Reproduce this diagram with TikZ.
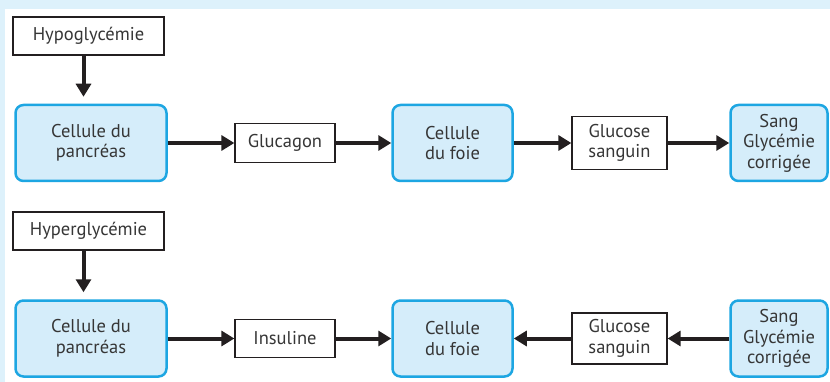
\documentclass[tikz,border=0pt]{standalone}
\usepackage{fontspec}
\setmainfont{PT Sans}
\usetikzlibrary{arrows.meta}
\definecolor{bande}{HTML}{DDF1FB}
\definecolor{bleu}{HTML}{1DA6E2}
\definecolor{bleuclair}{HTML}{D5EDFA}
\definecolor{trait}{HTML}{231F20}
\definecolor{texte}{HTML}{363636}
\begin{document}
\begin{tikzpicture}[x=1pt,y=-1pt,
  font=\fontsize{18.5}{20.5}\selectfont, text=texte,
  cellule/.style={draw=bleu, fill=bleuclair, line width=2.5pt, rounded corners=8pt,
    align=center, inner sep=0pt, minimum height=76pt},
  messager/.style={draw=trait, fill=white, line width=1.3pt, align=center, inner sep=0pt},
  fleche/.style={draw=trait, line width=4pt, -{Triangle[length=13pt,width=15pt]}}]
% background band
\fill[bande] (0,0) rectangle (830,382);
\fill[white] (5,9) rectangle (830,382);
\useasboundingbox (0,0) rectangle (830,382);

% first row: hypoglycemie
\node[messager, minimum width=151pt, minimum height=38pt] (hypo) at (88.5,36) {Hypoglycémie};
\node[cellule, minimum width=151pt] (pancreasA) at (91,143) {Cellule du\\pancréas};
\node[messager, minimum width=100pt, minimum height=39pt] (glucagon) at (285,143) {Glucagon};
\node[cellule, minimum width=120pt] (foieA) at (452.5,143) {Cellule\\du foie};
\node[messager, minimum width=95pt, minimum height=53pt] (glucoseA) at (619.5,143) {Glucose\\sanguin};
\node[cellule, minimum width=97pt] (sangA) at (779,143) {Sang\\Glycémie\\corrigée};

\draw[fleche, shorten >=7pt] ([xshift=-5pt]hypo.south) -- ([xshift=-5pt]hypo.south |- pancreasA.north);
\draw[fleche] (pancreasA) -- (glucagon);
\draw[fleche] (glucagon) -- (foieA);
\draw[fleche] (foieA) -- (glucoseA);
\draw[fleche] (glucoseA) -- (sangA);

% second row: hyperglycemie, arrows from the blood go back left
\node[messager, minimum width=151pt, minimum height=38pt] (hyper) at (88.5,231) {Hyperglycémie};
\node[cellule, minimum width=151pt] (pancreasB) at (91,338.5) {Cellule du\\pancréas};
\node[messager, minimum width=100pt, minimum height=38pt] (insuline) at (285,338.5) {Insuline};
\node[cellule, minimum width=120pt] (foieB) at (452.5,338.5) {Cellule\\du foie};
\node[messager, minimum width=95pt, minimum height=51pt] (glucoseB) at (619.5,338.5) {Glucose\\sanguin};
\node[cellule, minimum width=97pt] (sangB) at (779,338.5) {Sang\\Glycémie\\corrigée};

\draw[fleche, shorten >=7pt] ([xshift=-5pt]hyper.south) -- ([xshift=-5pt]hyper.south |- pancreasB.north);
\draw[fleche] (pancreasB) -- (insuline);
\draw[fleche] (insuline) -- (foieB);
\draw[fleche] (glucoseB) -- (foieB);
\draw[fleche] (sangB) -- (glucoseB);
\end{tikzpicture}
\end{document}
